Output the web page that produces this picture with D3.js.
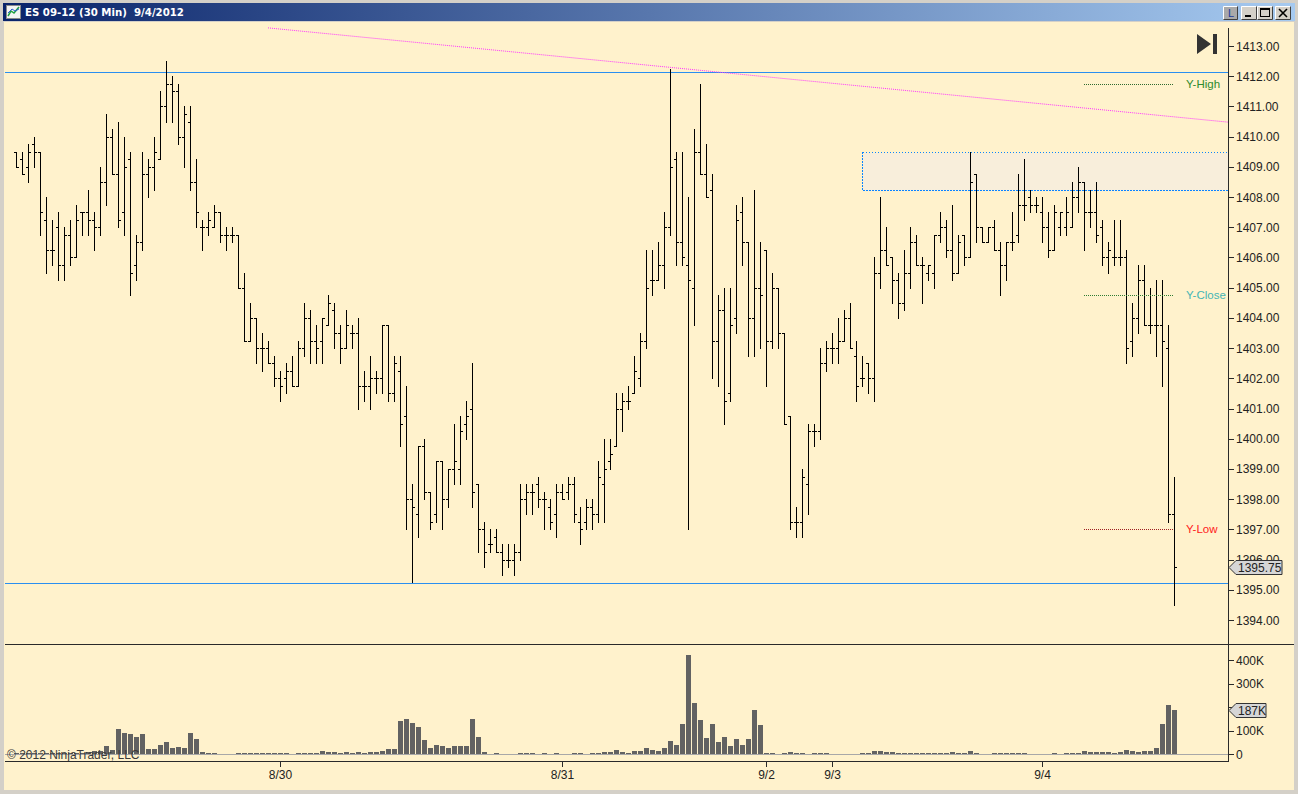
<!DOCTYPE html>
<html>
<head>
<meta charset="utf-8">
<script src="https://cdn.jsdelivr.net/npm/d3@7"></script>
<style>
  body { margin: 0; background: #d4d0c8; }
  svg { display: block; }
</style>
</head>
<body>
<div id="chart"></div>
<script>
// ES 09-12, 30 min bars (0.25 tick)
const opens = [
  1409.5,1409.25,1409.0,1409.75,1409.5,1407.25,1406.25,1407.0,1405.75,1406.75,
  1406.0,1407.5,1407.5,1407.25,1407.0,1408.5,1410.0,1408.75,1407.5,1409.25,
  1405.75,1406.5,1408.75,1409.0,1409.25,1411.0,1411.75,1411.5,1410.0,1410.5,
  1408.5,1407.0,1407.0,1407.0,1407.5,1406.75,1406.75,1406.75,1405.0,1403.25,
  1404.0,1403.0,1403.0,1402.5,1402.0,1402.0,1402.25,1401.75,1403.0,1404.0,
  1403.25,1403.25,1403.75,1404.25,1403.5,1403.0,1403.5,1403.5,1401.75,1401.75,
  1402.0,1402.0,1403.75,1401.5,1402.25,1400.75,1398.0,1397.5,1399.75,1398.25,
  1397.5,1399.25,1398.0,1399.0,1399.0,1400.5,1401.0,1398.5,1397.0,1396.5,
  1396.75,1396.25,1396.0,1396.0,1396.25,1398.0,1398.25,1398.5,1398.0,1397.75,
  1397.5,1398.25,1398.25,1398.5,1397.25,1397.25,1397.75,1397.5,1398.5,1399.25,
  1399.75,1401.0,1401.25,1401.5,1402.0,1403.25,1405.25,1405.25,1405.75,1407.0,
  1409.25,1406.5,1405.75,1405.0,1409.5,1408.75,1408.25,1403.25,1404.25,1401.5,
  1404.0,1407.5,1406.5,1404.0,1405.0,1406.25,1403.25,1405.0,1403.5,1400.75,
  1397.25,1397.25,1398.5,1400.25,1400.25,1402.5,1403.0,1403.0,1403.25,1404.0,
  1402.75,1402.0,1402.5,1402.0,1405.5,1406.25,1406.0,1405.25,1404.5,1405.5,
  1406.5,1405.75,1405.5,1405.5,1406.75,1407.0,1406.25,1405.5,1406.75,1406.0,
  1408.75,1407.0,1406.5,1407.0,1406.25,1405.75,1406.5,1406.75,1407.75,1408.0,
  1407.75,1407.5,1407.0,1406.25,1407.0,1407.0,1407.0,1408.0,1408.5,1407.5,
  1407.5,1407.0,1406.0,1406.0,1406.0,1406.0,1403.25,1404.0,1405.25,1403.75,
  1403.75,1403.75,1403.0,1397.5
];
const highs = [
  1409.5,1409.5,1409.75,1410.0,1409.5,1408.0,1407.25,1407.5,1407.0,1407.25,
  1407.75,1407.5,1408.25,1407.5,1409.0,1410.75,1410.25,1410.5,1410.0,1409.5,
  1406.75,1409.5,1409.25,1410.0,1411.5,1412.5,1412.0,1411.75,1411.0,1411.0,
  1409.25,1407.25,1407.5,1407.75,1407.5,1407.0,1407.0,1406.75,1405.5,1404.5,
  1404.0,1403.5,1403.25,1402.75,1402.25,1402.5,1402.75,1403.25,1404.5,1404.25,
  1403.75,1404.0,1404.75,1404.5,1403.75,1404.25,1403.75,1404.0,1402.25,1402.75,
  1402.25,1403.75,1403.75,1402.75,1402.75,1401.75,1398.5,1399.75,1400.0,1398.25,
  1399.25,1399.25,1399.0,1400.5,1400.75,1401.25,1402.5,1398.5,1397.25,1397.0,
  1397.0,1396.5,1396.5,1396.5,1398.5,1398.5,1398.5,1398.75,1398.25,1398.0,
  1398.5,1398.5,1398.75,1398.75,1397.75,1398.0,1398.0,1399.25,1400.0,1400.0,
  1401.5,1401.5,1401.75,1402.75,1403.5,1406.25,1406.25,1406.5,1407.5,1412.25,
  1409.5,1409.5,1408.0,1410.25,1411.75,1409.75,1408.75,1404.75,1405.0,1405.0,
  1407.75,1408.0,1406.5,1408.25,1406.5,1406.25,1405.5,1405.0,1403.5,1400.75,
  1397.75,1399.0,1400.5,1400.5,1403.0,1403.25,1403.5,1404.0,1404.25,1404.5,
  1403.25,1402.75,1402.5,1406.0,1408.0,1407.0,1406.0,1405.5,1406.25,1407.0,
  1406.75,1406.0,1405.75,1406.75,1407.5,1407.25,1407.75,1406.75,1406.75,1409.5,
  1408.75,1407.0,1407.0,1407.25,1406.5,1406.5,1407.5,1408.75,1409.25,1408.25,
  1408.0,1408.0,1407.5,1407.75,1407.5,1408.0,1408.5,1409.0,1408.5,1408.25,
  1408.5,1407.25,1406.5,1407.25,1407.25,1406.25,1404.5,1405.75,1405.75,1405.0,
  1405.25,1405.25,1403.75,1398.75
];
const lows = [
  1409.0,1408.75,1408.5,1409.0,1406.75,1405.5,1405.75,1405.25,1405.25,1405.75,
  1406.0,1406.75,1406.75,1406.25,1406.75,1407.75,1408.75,1407.0,1406.75,1404.75,
  1405.25,1406.25,1408.0,1408.25,1409.25,1410.5,1410.5,1409.75,1409.0,1408.25,
  1407.0,1406.25,1406.75,1407.0,1406.5,1406.25,1406.5,1405.0,1403.25,1403.25,
  1402.5,1402.25,1402.5,1401.75,1401.25,1401.5,1401.75,1401.75,1402.75,1402.5,
  1402.5,1402.5,1403.75,1403.0,1402.5,1403.0,1403.0,1401.0,1401.25,1401.0,
  1401.5,1401.5,1401.25,1401.25,1399.75,1397.0,1395.25,1396.75,1398.0,1397.0,
  1397.25,1397.0,1397.75,1398.5,1398.5,1400.0,1397.75,1396.25,1395.75,1396.25,
  1396.25,1395.5,1395.75,1395.5,1396.0,1397.5,1397.5,1397.75,1397.0,1397.0,
  1396.75,1398.0,1398.0,1397.25,1396.5,1397.0,1397.0,1397.25,1397.25,1399.0,
  1399.75,1400.25,1401.0,1401.5,1401.75,1403.0,1404.75,1405.25,1405.0,1406.75,
  1405.75,1405.75,1397.0,1403.75,1408.75,1408.0,1402.0,1401.75,1400.5,1401.25,
  1403.5,1405.75,1402.75,1402.75,1403.0,1401.75,1403.0,1403.0,1400.5,1397.0,
  1396.75,1396.75,1397.5,1399.75,1400.0,1402.25,1402.5,1402.5,1403.25,1403.0,
  1401.25,1401.75,1401.5,1401.25,1405.0,1405.75,1404.5,1404.0,1404.25,1405.0,
  1405.75,1404.5,1405.25,1405.0,1406.5,1406.0,1405.25,1405.5,1405.75,1406.0,
  1406.5,1406.5,1406.5,1406.25,1404.75,1405.25,1406.25,1406.5,1407.25,1407.5,
  1407.5,1406.5,1406.0,1406.25,1406.75,1406.75,1407.0,1407.5,1406.25,1407.0,
  1406.5,1405.75,1405.5,1405.75,1405.75,1402.5,1402.75,1403.5,1403.75,1403.5,
  1402.75,1401.75,1397.25,1394.5
];
const closes = [
  1409.0,1408.75,1409.5,1409.5,1407.5,1406.25,1406.25,1405.75,1406.75,1406.0,
  1407.25,1407.5,1407.25,1407.0,1408.5,1410.0,1408.75,1407.25,1409.0,1405.5,
  1406.5,1408.75,1409.0,1409.5,1411.0,1411.75,1411.5,1410.0,1410.75,1408.5,
  1407.5,1407.0,1407.25,1407.5,1406.75,1406.75,1406.75,1405.0,1403.25,1404.0,
  1403.0,1403.0,1402.5,1402.0,1401.75,1402.25,1401.75,1403.0,1404.0,1403.25,
  1403.0,1404.0,1404.5,1403.5,1403.0,1403.75,1403.5,1401.75,1401.75,1402.0,
  1402.0,1403.75,1401.5,1402.5,1400.5,1398.0,1397.75,1399.75,1398.25,1397.25,
  1399.25,1398.0,1399.0,1399.25,1400.25,1400.75,1398.25,1397.0,1396.25,1396.5,
  1396.25,1396.0,1396.0,1396.25,1398.0,1398.25,1398.25,1398.0,1398.0,1397.25,
  1398.25,1398.0,1398.5,1397.5,1397.0,1397.75,1397.5,1398.75,1399.0,1399.5,
  1401.0,1401.25,1401.25,1402.25,1403.25,1405.0,1405.25,1405.75,1407.0,1409.0,
  1406.5,1406.0,1405.25,1409.5,1408.75,1408.0,1403.25,1404.25,1401.25,1403.75,
  1407.25,1406.5,1404.0,1405.0,1404.75,1403.25,1405.0,1403.5,1400.5,1397.25,
  1397.25,1398.75,1400.25,1400.25,1402.5,1403.0,1403.0,1403.25,1404.0,1403.0,
  1401.75,1402.0,1402.0,1405.5,1406.25,1405.75,1405.25,1404.5,1405.5,1406.5,
  1405.75,1405.75,1405.75,1406.75,1407.0,1406.25,1405.5,1406.5,1406.0,1408.5,
  1407.0,1406.5,1407.0,1406.25,1405.75,1406.5,1406.5,1407.75,1407.75,1407.75,
  1407.75,1407.0,1406.25,1407.5,1407.5,1407.5,1408.0,1408.5,1407.5,1407.5,
  1406.75,1406.0,1406.25,1406.0,1406.0,1403.0,1404.0,1405.25,1403.75,1403.75,
  1403.75,1403.25,1397.5,1395.75
];
// volume in thousands of contracts
const volumesK = [
  5,4,4,5,6,4,5,4,4,5,6,5,8,
  13,13,34,17,106,89,85,72,85,20,
  23,38,51,27,30,25,89,64,8,4,
  4,1,1,1,4,4,4,4,4,4,
  4,4,4,1,4,4,4,4,13,8,
  8,4,8,4,8,4,8,8,13,23,
  23,140,148,131,114,59,25,38,34,25,
  34,34,34,148,72,8,1,4,1,1,
  1,4,4,4,1,4,1,4,1,1,
  4,4,1,4,4,8,8,17,8,4,
  13,13,25,17,13,25,55,38,127,420,
  216,144,68,127,51,72,34,64,38,64,
  187,123,4,4,1,4,8,4,4,1,
  4,4,4,1,1,1,1,1,4,4,
  13,13,8,8,4,4,4,4,4,4,
  4,4,4,8,4,4,13,4,1,1,
  4,4,4,4,4,4,1,1,1,1,
  4,1,4,4,4,13,8,8,8,8,
  4,8,17,13,8,13,13,25,127,208,
  187
];

const dateLabels = ["8/30", "8/31", "9/2", "9/3", "9/4"];
const dateBars = [44, 91, 125, 136, 171];

const priceTicks = d3.range(1394, 1414);
// 200K sits under the last-volume marker, so it is not printed
const volumeTicks = [0, 100, 200, 300, 400];
const volumeLabelTicks = [0, 100, 300, 400];

// drawn objects on the chart
const hLinePrices = [1412.14, 1395.22];
const trendBars = [42, 202];
const trendPrices = [1413.6, 1410.48];
const zoneStartBar = 141;
const zonePrices = [1408.25, 1409.5];
const priorDayNames = ["Y-High", "Y-Close", "Y-Low"];
const priorDayPrices = [1411.75, 1404.75, 1397.0];
const priorDayStartBar = 178;

const W = 1298, H = 794;
const axisX = 1228;
const n = closes.length;

const x = d3.scaleLinear().domain([0, n - 1]).range([16, 16 + 6 * (n - 1)]);
const y = d3.scaleLinear().domain([1394, 1413]).range([620, 46]);
const yv = d3.scaleLinear().domain([0, 400]).range([754, 660]);

const svg = d3.select("#chart").append("svg")
    .attr("width", W)
    .attr("height", H)
    .attr("viewBox", [0, 0, W, H])
    .style("font-family", "'Liberation Sans', Arial, sans-serif");

// window frame + title bar
svg.append("rect").attr("width", W).attr("height", H).attr("fill", "#d4d0c8");
svg.append("rect").attr("x", 4).attr("y", 22).attr("width", 1290).attr("height", 768)
    .attr("fill", "#fff2cc");

const grad = svg.append("defs").append("linearGradient").attr("id", "tb");
grad.append("stop").attr("offset", "0%").attr("stop-color", "#0a246a");
grad.append("stop").attr("offset", "100%").attr("stop-color", "#a6caf0");
svg.append("rect").attr("x", 3).attr("y", 3).attr("width", 1292).attr("height", 18)
    .attr("fill", "url(#tb)");

svg.append("rect").attr("x", 6.5).attr("y", 5.5).attr("width", 14).attr("height", 13)
    .attr("fill", "#f4f4f4").attr("stroke", "#8a8a8a");
svg.append("polyline").attr("points", "8,16 11,11 14,13 19,7")
    .attr("fill", "none").attr("stroke", "#20a040").attr("stroke-width", 1.5);
svg.append("polyline").attr("points", "8,13 12,9 15,11 19,9")
    .attr("fill", "none").attr("stroke", "#3060d0").attr("stroke-width", 1);

svg.append("text").attr("x", 25).attr("y", 16)
    .style("white-space", "pre")
    .attr("font-family", "'DejaVu Sans', Verdana, sans-serif")
    .attr("font-size", 10.2).attr("font-weight", "bold").attr("fill", "#fff")
    .text("ES 09-12 (30 Min)  9/4/2012");

// caption buttons
function button(bx, w, fill) {
  const g = svg.append("g");
  g.append("rect").attr("x", bx).attr("y", 6).attr("width", w).attr("height", 14).attr("fill", fill);
  g.append("path").attr("d", `M${bx + 0.5},19.5V6.5H${bx + w - 0.5}`).attr("fill", "none").attr("stroke", "#fff");
  g.append("path").attr("d", `M${bx + 0.5},19.5H${bx + w - 0.5}V6.5`).attr("fill", "none").attr("stroke", "#404040");
  return g;
}
button(1223, 15, "#a9a9a9").append("text").attr("x", 1228).attr("y", 17)
    .attr("font-size", 11).attr("fill", "#1a3a9a").text("L");
button(1241, 16, "#d4d0c8").append("rect").attr("x", 1245).attr("y", 15).attr("width", 6).attr("height", 2).attr("fill", "#000");
const mx = button(1257, 16, "#d4d0c8");
mx.append("rect").attr("x", 1260.5).attr("y", 8.5).attr("width", 9).attr("height", 8)
    .attr("fill", "none").attr("stroke", "#000");
mx.append("rect").attr("x", 1260).attr("y", 8).attr("width", 10).attr("height", 2).attr("fill", "#000");
button(1275, 16, "#d4d0c8").append("path").attr("d", "M1279,9L1287,17M1287,9L1279,17")
    .attr("stroke", "#000").attr("stroke-width", 1.6);

// price panel objects
svg.append("rect")
    .attr("x", x(zoneStartBar) + 0.5).attr("y", Math.round(y(zonePrices[1])) + 0.5)
    .attr("width", axisX - x(zoneStartBar))
    .attr("height", Math.round(y(zonePrices[0])) - Math.round(y(zonePrices[1])))
    .attr("fill", "#f8eedb")
    .attr("shape-rendering", "crispEdges")
    .attr("stroke", "#0a84ff").attr("stroke-dasharray", "1.5,1.5");

svg.selectAll(".hline").data(hLinePrices).join("line")
    .attr("x1", 5).attr("x2", axisX)
    .attr("y1", d => Math.round(y(d)) + 0.5).attr("y2", d => Math.round(y(d)) + 0.5)
    .attr("stroke", "#2a8ff0");

svg.append("line")
    .attr("x1", x(trendBars[0])).attr("y1", y(trendPrices[0]))
    .attr("x2", x(trendBars[1])).attr("y2", y(trendPrices[1]))
    .attr("stroke", "#ff33ff").attr("stroke-dasharray", "1,1");

const bars = d3.range(n).map(i => ({i, o: opens[i], h: highs[i], l: lows[i], c: closes[i], v: volumesK[i]}));
const px = d => Math.round(x(d.i));
const py = v => Math.round(y(v));

const gBars = svg.append("g").attr("fill", "#000").attr("shape-rendering", "crispEdges");
gBars.selectAll(".hl").data(bars).join("rect")
    .attr("x", px).attr("y", d => py(d.h))
    .attr("width", 1).attr("height", d => py(d.l) - py(d.h) + 1);
gBars.selectAll(".op").data(bars).join("rect")
    .attr("x", d => px(d) - 2).attr("y", d => py(d.o))
    .attr("width", 2).attr("height", 1);
gBars.selectAll(".cl").data(bars).join("rect")
    .attr("x", d => px(d) + 1).attr("y", d => py(d.c))
    .attr("width", 2).attr("height", 1);

// prior day levels
const pdColors = ["#2e6a2e", "#2e7d32", "#a02020"];
const pdText = ["#2e8b2e", "#45b5b5", "#ff2020"];
priorDayPrices.forEach((p, k) => {
  svg.append("line")
      .attr("x1", x(priorDayStartBar)).attr("x2", x(n - 1))
      .attr("y1", py(p) + 0.5).attr("y2", py(p) + 0.5)
      .attr("stroke", pdColors[k]).attr("stroke-dasharray", "1,1");
  svg.append("text").attr("x", 1186).attr("y", y(p) + 4)
      .attr("font-size", 11.5).attr("fill", pdText[k]).text(priorDayNames[k]);
});

// play/end icon
svg.append("path").attr("d", "M1197,34L1211,44L1197,54Z M1213,34h4v20h-4Z").attr("fill", "#333");

// volume panel
svg.selectAll(".vol").data(bars).join("rect")
    .attr("shape-rendering", "crispEdges")
    .attr("x", d => px(d) - 2).attr("width", 5)
    .attr("y", d => Math.round(yv(d.v)))
    .attr("height", d => yv(0) - Math.round(yv(d.v)))
    .attr("fill", "#626262");

svg.append("line").attr("x1", 5).attr("x2", axisX).attr("y1", yv(0) + 0.5).attr("y2", yv(0) + 0.5)
    .attr("stroke", "#a8a8a8");

svg.append("text").attr("x", 7).attr("y", 759).attr("font-size", 12).attr("fill", "#3a3a3a")
    .text("© 2012 NinjaTrader, LLC");

// frame lines
const axisG = svg.append("g").attr("stroke", "#2a2a2a").attr("shape-rendering", "crispEdges");
axisG.append("line").attr("x1", 5).attr("x2", 1294).attr("y1", 644.5).attr("y2", 644.5);
axisG.append("line").attr("x1", 5).attr("x2", axisX).attr("y1", 761.5).attr("y2", 761.5);
axisG.append("line").attr("x1", axisX + 0.5).attr("x2", axisX + 0.5).attr("y1", 28).attr("y2", 762);

// price axis
const fmt = d3.format(".2f");
priceTicks.forEach(p => {
  axisG.append("line").attr("x1", axisX).attr("x2", axisX + 6).attr("y1", py(p) + 0.5).attr("y2", py(p) + 0.5);
  svg.append("text").attr("x", axisX + 8).attr("y", y(p) + 4.5)
      .attr("font-size", 12).attr("fill", "#222").text(fmt(p));
});

// volume axis
volumeTicks.forEach(v => {
  axisG.append("line").attr("x1", axisX).attr("x2", axisX + 6)
      .attr("y1", Math.round(yv(v)) + 0.5).attr("y2", Math.round(yv(v)) + 0.5);
});
volumeLabelTicks.forEach(v => {
  svg.append("text").attr("x", axisX + 8).attr("y", yv(v) + 4.5)
      .attr("font-size", 12).attr("fill", "#222").text(v === 0 ? "0" : v + "K");
});

// time axis
dateBars.forEach((b, k) => {
  axisG.append("line").attr("x1", px({i: b}) + 0.5).attr("x2", px({i: b}) + 0.5).attr("y1", 762).attr("y2", 767);
  svg.append("text").attr("x", x(b) + 0.5).attr("y", 779).attr("text-anchor", "middle")
      .attr("font-size", 12).attr("fill", "#222").text(dateLabels[k]);
});

// last value markers
function marker(my, label, w) {
  const my0 = Math.round(my) + 0.5;
  svg.append("path")
      .attr("d", `M${axisX + 1},${my0}L${axisX + 8},${my0 - 7}H${axisX + 8 + w}V${my0 + 7}H${axisX + 8}Z`)
      .attr("fill", "#d6d6d6").attr("stroke", "#333");
  svg.append("text").attr("x", axisX + 10).attr("y", my0 + 4.5)
      .attr("font-size", 12).attr("fill", "#222").text(label);
}
marker(y(closes[n - 1]), fmt(closes[n - 1]), 46);
marker(yv(volumesK[n - 1]), volumesK[n - 1] + "K", 30);
</script>
</body>
</html>
